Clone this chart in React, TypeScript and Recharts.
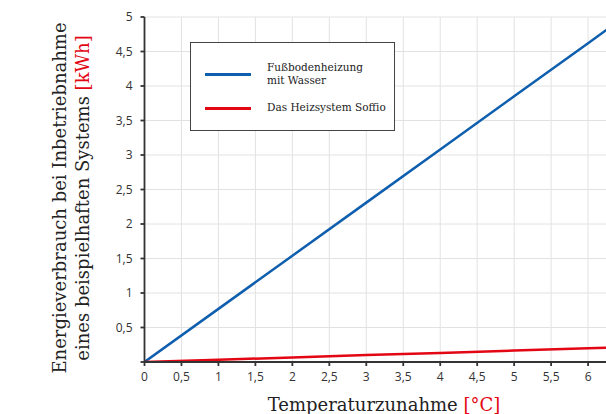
import React from "react";
import { LineChart, Line, XAxis, YAxis, CartesianGrid, Label } from "recharts";

const xValues = [0, 1, 2, 3, 4, 5, 6, 7];
const floorHeatingWater = [0, 0.77, 1.54, 2.31, 3.08, 3.85, 4.62, 5.39];
const soffioSystem = [0, 0.033, 0.066, 0.1, 0.13, 0.165, 0.2, 0.23];
const xTicks = [0, 0.5, 1, 1.5, 2, 2.5, 3, 3.5, 4, 4.5, 5, 5.5, 6];
const yTicks = [0, 0.5, 1, 1.5, 2, 2.5, 3, 3.5, 4, 4.5, 5];

const seriesNames = ["Fußbodenheizung", "mit Wasser", "Das Heizsystem Soffio"];
const yTitleLines = ["Energieverbrauch bei Inbetriebnahme", "eines beispielhaften Systems "];
const yTitleUnit = "[kWh]";
const xTitle = "Temperaturzunahme ";
const xTitleUnit = "[°C]";

const BLUE = "#0f5fae";
const RED = "#e30613";
const SERIF = "'DejaVu Serif', serif";
const SANS = "'Open Sans', sans-serif";

const data = xValues.map((x, i) => ({
  x,
  floor: floorHeatingWater[i],
  soffio: soffioSystem[i],
}));

const fmt = (v: number) => String(v).replace(".", ",");

const XTitle = () => (
  <text x={384} y={411} textAnchor="middle" fontFamily={SERIF} fontSize={18} fill="#222">
    {xTitle}
    <tspan fill={RED}>{xTitleUnit}</tspan>
  </text>
);

const YTitle = () => (
  <g fontFamily={SERIF} fontSize={18} fill="#222">
    <text x={66} y={198} textAnchor="middle" transform="rotate(-90 66 198)">
      {yTitleLines[0]}
    </text>
    <text x={89} y={198} textAnchor="middle" transform="rotate(-90 89 198)">
      {yTitleLines[1]}
      <tspan fill={RED}>{yTitleUnit}</tspan>
    </text>
  </g>
);

export default function App() {
  return (
    <div
      style={{
        position: "absolute",
        left: 0,
        top: 0,
        width: 606,
        height: 414,
        overflow: "hidden",
        background: "#fff",
      }}
    >
      <LineChart
        width={680}
        height={430}
        data={data}
        margin={{ top: 17, right: 18, bottom: 38, left: 0 }}
      >
        <CartesianGrid stroke="#e2e2e2" strokeWidth={1} />
        <XAxis
          type="number"
          dataKey="x"
          domain={[0, 7]}
          allowDataOverflow
          ticks={xTicks}
          interval={0}
          tickFormatter={fmt}
          height={30}
          tickSize={4}
          tickMargin={6}
          stroke="#333"
          strokeWidth={1.8}
          tick={{ fill: "#333", fontSize: 12, fontFamily: SANS }}
        >
          <Label content={() => <XTitle />} />
        </XAxis>
        <YAxis
          type="number"
          domain={[0, 5]}
          allowDataOverflow
          ticks={yTicks}
          interval={0}
          tickFormatter={(v: number) => (v === 0 ? "" : fmt(v))}
          width={144.5}
          tickSize={4}
          tickMargin={8}
          stroke="#333"
          strokeWidth={1.8}
          tick={{ fill: "#333", fontSize: 12, fontFamily: SANS }}
        >
          <Label content={() => <YTitle />} />
        </YAxis>
        <Line
          type="linear"
          dataKey="floor"
          stroke={BLUE}
          strokeWidth={2.5}
          dot={false}
          isAnimationActive={false}
        />
        <Line
          type="linear"
          dataKey="soffio"
          stroke={RED}
          strokeWidth={2.5}
          dot={false}
          isAnimationActive={false}
        />
      </LineChart>
      <div
        style={{
          position: "absolute",
          left: 190,
          top: 42,
          width: 205,
          height: 89,
          boxSizing: "border-box",
          border: "1.5px solid #444",
          background: "#fff",
          fontFamily: SERIF,
          fontSize: 10.5,
          color: "#222",
        }}
      >
        <div style={{ position: "absolute", left: 14, top: 30, width: 46, height: 3, background: BLUE }} />
        <div style={{ position: "absolute", left: 76, top: 18, lineHeight: "13px", whiteSpace: "nowrap" }}>
          {seriesNames[0]}
          <br />
          {seriesNames[1]}
        </div>
        <div style={{ position: "absolute", left: 14, top: 64, width: 46, height: 3, background: RED }} />
        <div style={{ position: "absolute", left: 76, top: 58, lineHeight: "13px", whiteSpace: "nowrap" }}>
          {seriesNames[2]}
        </div>
      </div>
    </div>
  );
}
